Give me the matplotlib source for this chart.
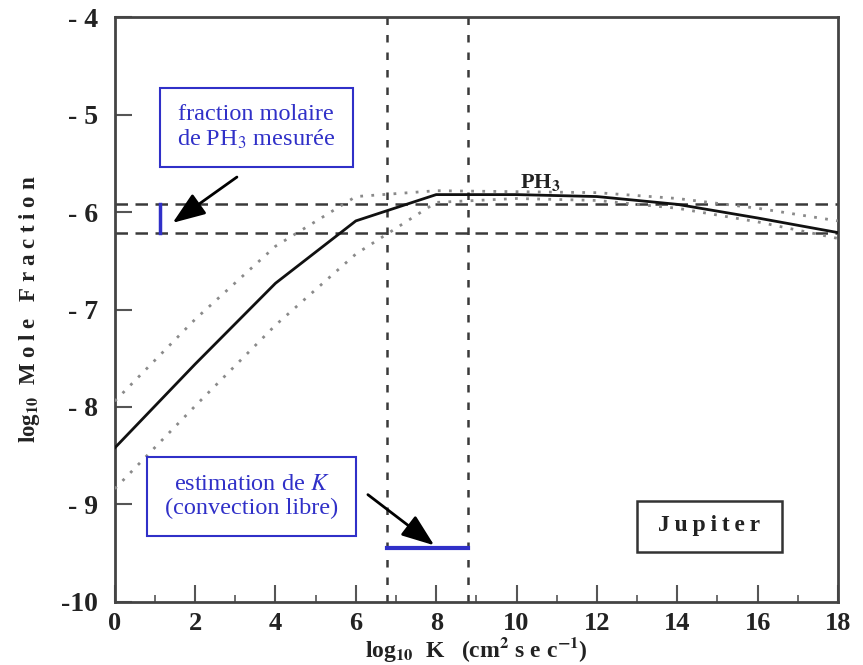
import numpy as np
import matplotlib
matplotlib.use("Agg")
import matplotlib.pyplot as plt
from matplotlib.patches import Rectangle
from matplotlib.ticker import MultipleLocator

plt.rcParams['font.family'] = ['Liberation Serif', 'DejaVu Serif']
plt.rcParams['mathtext.fontset'] = 'stix'

# donnees
log_k = [0, 2, 4, 6, 8, 10, 12, 14, 16, 18]
ph3_model = [-8.42, -7.56, -6.73, -6.09, -5.82, -5.82, -5.84, -5.92, -6.06, -6.21]
ph3_upper = [-7.94, -7.1, -6.35, -5.84, -5.78, -5.79, -5.8, -5.86, -5.96, -6.09]
ph3_lower = [-8.84, -7.99, -7.16, -6.43, -5.9, -5.86, -5.88, -5.96, -6.1, -6.27]

mesure = [-5.92, -6.21]          # fraction molaire mesuree (bornes)
k_estim = [6.78, 8.78]           # estimation de log K (convection libre)
k_bar_y = -9.45

x_ticks = [0, 2, 4, 6, 8, 10, 12, 14, 16, 18]
y_ticks = [-10, -9, -8, -7, -6, -5, -4]
y_labels = ['-10', '- 9', '- 8', '- 7', '- 6', '- 5', '- 4']

blue = '#3030c8'
grey = '#3a3a3a'

fig = plt.figure(figsize=(8.63, 6.65), dpi=100)
ax = fig.add_axes([0.133, 0.095, 0.838, 0.879])

ax.plot(log_k, ph3_model, color='#111111', lw=2.0, zorder=4)
ax.plot(log_k, ph3_upper, color='#8a8a8a', lw=2.0, ls=(0, (1, 3)), zorder=3)
ax.plot(log_k, ph3_lower, color='#8a8a8a', lw=2.0, ls=(0, (1, 3)), zorder=3)

for yv in mesure:
    ax.axhline(yv, color=grey, lw=1.8, ls=(0, (5, 3)), zorder=2)
for xv in k_estim:
    ax.axvline(xv, color=grey, lw=1.8, ls=(0, (3, 4)), zorder=2)

# barres bleues
ax.plot([1.12, 1.12], mesure, color=blue, lw=2.5, zorder=5)
ax.plot(k_estim, [k_bar_y, k_bar_y], color=blue, lw=3, zorder=5)

ax.text(10.6, -5.7, 'PH$_{\\mathbf{3}}$', fontsize=16, fontweight='bold',
        ha='center', va='center', color='#222222')

# boites d'annotation
ax.add_patch(Rectangle((1.12, -5.54), 4.8, 0.81, fc='white', ec=blue, lw=1.5, zorder=6))
ax.text(3.52, -5.13, 'fraction molaire\nde PH$_3$ mesurée', fontsize=17.5,
        color=blue, ha='center', va='center', linespacing=1.15, zorder=7)
ax.add_patch(Rectangle((0.8, -9.32), 5.2, 0.81, fc='white', ec=blue, lw=1.5, zorder=6))
ax.text(3.4, -8.92, 'estimation de $K$\n(convection libre)', fontsize=17.5,
        color=blue, ha='center', va='center', linespacing=1.15, zorder=7)

arrow = dict(arrowstyle='-|>,head_length=2.0,head_width=0.75',
             color='black', lw=2, shrinkA=0, shrinkB=0)
ax.annotate('', xy=(1.44, -6.11), xytext=(3.04, -5.64), arrowprops=arrow)
ax.annotate('', xy=(7.95, -9.42), xytext=(6.3, -8.9), arrowprops=arrow)

ax.add_patch(Rectangle((13.0, -9.49), 3.6, 0.53, fc='white', ec='#333333', lw=1.8, zorder=6))
ax.text(14.8, -9.22, '\u2009'.join('Jupiter'), fontsize=17, fontweight='bold',
        ha='center', va='center', color='#222222', zorder=7)

ax.set_xlim(0, 18)
ax.set_ylim(-10, -4)
ax.set_xticks(x_ticks)
ax.set_xticklabels([str(v) for v in x_ticks])
ax.set_yticks(y_ticks)
ax.set_yticklabels(y_labels)
ax.xaxis.set_minor_locator(MultipleLocator(1))
ax.tick_params(axis='both', which='major', direction='in', length=12, width=1.5,
               color='#555555')
ax.tick_params(axis='x', which='major', labelsize=19, pad=7)
ax.tick_params(axis='y', which='major', labelsize=20, pad=12)
ax.tick_params(axis='x', which='minor', direction='in', length=5, width=1.2,
               color='#555555')
for lab in ax.get_xticklabels() + ax.get_yticklabels():
    lab.set_fontweight('bold')
    lab.set_color('#222222')

for sp in ax.spines.values():
    sp.set_color('#444444')
    sp.set_linewidth(2)

ax.set_xlabel('log$_{\\mathbf{10}}$  K   (cm$^{\\mathbf{2}}$ s e c$^{\\mathbf{-1}}$)',
              fontsize=17, fontweight='bold', color='#222222', labelpad=0)
ax.set_ylabel('log$_{\\mathbf{10}}$  M o l e   F r a c t i o n',
              fontsize=16.5, fontweight='bold', color='#222222', labelpad=14)

fig.savefig('out.png', dpi=100)
